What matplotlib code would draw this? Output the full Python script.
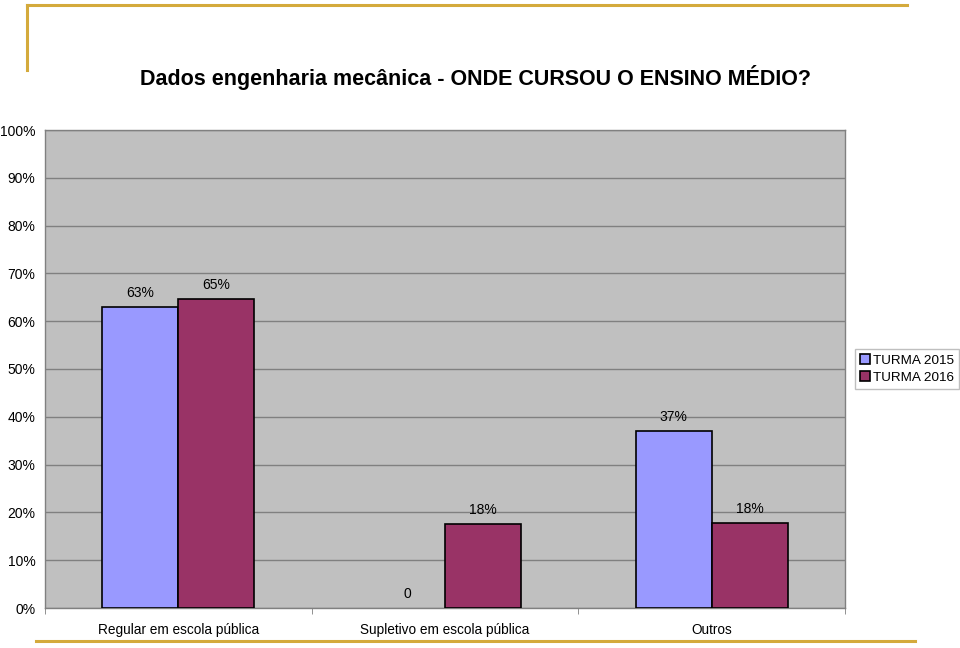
import matplotlib
matplotlib.use("Agg")
import matplotlib.pyplot as plt
import numpy as np
from matplotlib.lines import Line2D

plt.rcParams['font.family'] = ['Liberation Sans', 'DejaVu Sans']

categories = ["Regular em escola pública", "Supletivo em escola pública", "Outros"]
turma_2015 = [0.63, 0.0, 0.37]
turma_2016 = [0.647, 0.176, 0.177]
labels_2015 = ["63%", "0", "37%"]
labels_2016 = ["65%", "18%", "18%"]
yticks = [0, 0.1, 0.2, 0.3, 0.4, 0.5, 0.6, 0.7, 0.8, 0.9, 1.0]
title = "Dados engenharia mecânica - ONDE CURSOU O ENSINO MÉDIO?"

W, H = 960, 648
fig = plt.figure(figsize=(9.6, 6.48), dpi=100)
ax = fig.add_axes([45 / W, 1 - 608 / H, 800 / W, 478 / H])
ax.set_facecolor("#C0C0C0")

x = np.arange(len(categories))
bw = 0.285
b1 = ax.bar(x - bw / 2, turma_2015, bw, color="#9999FF", edgecolor="black", linewidth=1.2, label="TURMA 2015", zorder=3)
b2 = ax.bar(x + bw / 2, turma_2016, bw, color="#993366", edgecolor="black", linewidth=1.2, label="TURMA 2016", zorder=3)

for bars, labs in ((b1, labels_2015), (b2, labels_2016)):
    for rect, lab in zip(bars, labs):
        if rect.get_height() == 0:
            rect.set_linewidth(0)
        ax.annotate(lab, (rect.get_x() + rect.get_width() / 2, rect.get_height()),
                    xytext=(0, 5), textcoords="offset points", ha="center", va="bottom", fontsize=10)

ax.set_xlim(-0.5, len(categories) - 0.5)
ax.set_ylim(0, 1.0)
ax.set_yticks(yticks)
ax.set_yticklabels([f"{int(round(v * 100))}%" for v in yticks], fontsize=10)
ax.yaxis.grid(True, color="#808080", linewidth=1, zorder=0)
ax.set_axisbelow(True)
ax.tick_params(axis="y", length=0, pad=7)

ax.set_xticks(x)
ax.set_xticklabels(categories, fontsize=9.8)
ax.tick_params(axis="x", length=0, pad=11)
ax.set_xticks(np.arange(-0.5, len(categories) + 0.5, 1.0), minor=True)
ax.tick_params(axis="x", which="minor", length=4, color="#808080", direction="out")

for s in ax.spines.values():
    s.set_color("#808080")
    s.set_linewidth(1)

leg = ax.legend(loc="center left", fontsize=9.7,
                frameon=True, fancybox=False, edgecolor="#B0B0B0", handlelength=0.75, handleheight=0.75,
                handletextpad=0.25, borderpad=0.35, labelspacing=0.35, borderaxespad=0)
leg.set_bbox_to_anchor((855 / W, 1 - 369 / H), transform=fig.transFigure)
leg.get_frame().set_linewidth(1)

fig.text(475 / W, 1 - 78 / H, title, ha="center", va="center", fontsize=15.5, fontweight="bold")

gold = "#D4AA3C"
fig.add_artist(Line2D([27 / W, 907 / W], [1 - 5 / H, 1 - 5 / H], color=gold, linewidth=2.2, transform=fig.transFigure))
fig.add_artist(Line2D([27 / W, 27 / W], [1 - 5 / H, 1 - 70 / H], color=gold, linewidth=2.2, transform=fig.transFigure))
fig.add_artist(Line2D([36 / W, 915 / W], [1 - 641 / H, 1 - 641 / H], color=gold, linewidth=2.2, transform=fig.transFigure))

fig.savefig("out.png", dpi=100)
